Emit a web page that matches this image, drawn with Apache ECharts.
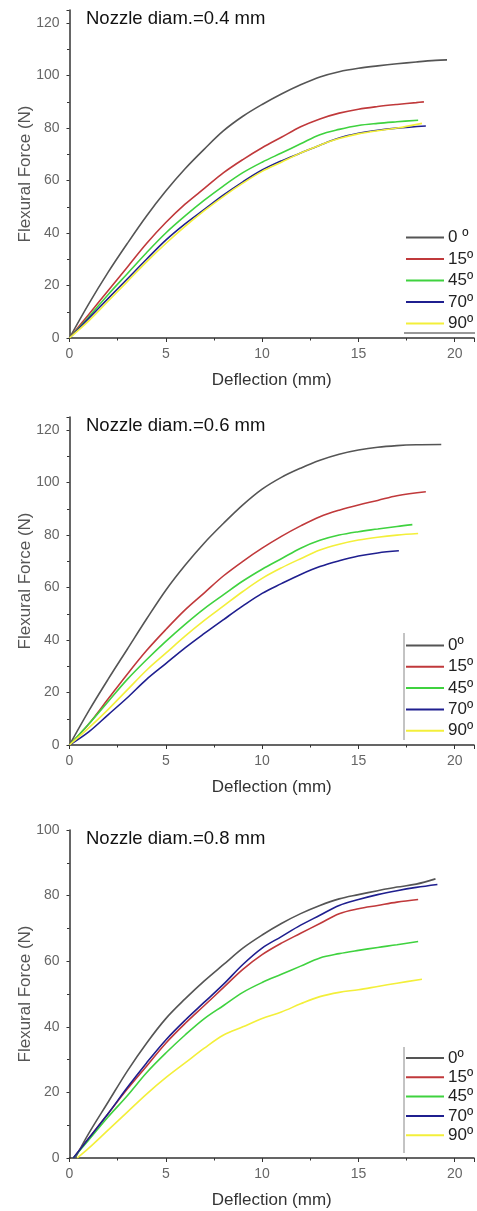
<!DOCTYPE html>
<html>
<head>
<meta charset="utf-8">
<script src="https://cdn.jsdelivr.net/npm/echarts@6/dist/echarts.min.js"></script>
<style>
  html, body { margin: 0; padding: 0; background: #fff; }
  #chart { width: 477px; height: 1211px; }
</style>
</head>
<body>
<div id="chart"></div>
<script>
// legend labels
var names04 = ['0 º', '15º', '45º', '70º', '90º'];
var names06 = ['0º', '15º', '45º', '70º', '90º'];
var names08 = ['0º', '15º', '45º', '70º', '90º'];
var panelTitles = ['Nozzle diam.=0.4 mm', 'Nozzle diam.=0.6 mm', 'Nozzle diam.=0.8 mm'];
var yMax = [125, 125, 100];

// nozzle 0.4 mm  [deflection, force]
var n04_0  = [[0,0],[1,13],[2,25],[3,36],[4,46.5],[5,56],[6,64.5],[7,72],[8,79],[9,84.5],[10,89],[11,93],[12,96.5],[13,99.5],[14,101.5],[15,102.8],[16,103.7],[17,104.5],[18,105.2],[19,105.8],[19.6,106]];
var n04_15 = [[0,0],[1,9],[2,18],[3,27],[4,36],[5,44],[6,51],[7,57],[8,63],[9,68],[10,72.5],[11,76.5],[12,80.5],[13,83.5],[14,85.7],[15,87.2],[16,88.2],[17,89],[18,89.7],[18.4,90]];
var n04_45 = [[0,0],[1,8],[2,16.5],[3,24.5],[4,32.5],[5,40],[6,46.5],[7,52.5],[8,58],[9,63],[10,67],[11,70.5],[12,74],[13,77.5],[14,79.5],[15,81],[16,81.8],[17,82.4],[18.1,83]];
var n04_70 = [[0,0],[1,7.5],[2,15],[3,22.5],[4,30],[5,37.3],[6,43.5],[7,49],[8,54.5],[9,59.5],[10,64],[11,67.5],[12,70.5],[13,73.5],[14,76.2],[15,78],[16,79.2],[17,80],[18.5,80.8]];
var n04_90 = [[0,0],[1,6.5],[2,14],[3,21.5],[4,29],[5,36],[6,42.5],[7,48.5],[8,54],[9,59],[10,63.5],[11,67],[12,70.5],[13,73.5],[14,76],[15,77.8],[16,79],[17,80],[18.3,81.8]];

// nozzle 0.6 mm
var n06_0  = [[0,0],[1,13],[2,25],[3,36.5],[4,48],[5,59],[6,68.5],[7,77],[8,84.5],[9,91.5],[10,97.5],[11,102],[12,105.5],[13,108.5],[14,110.8],[15,112.4],[16,113.5],[17,114.1],[18,114.4],[19.3,114.5]];
var n06_15 = [[0,0],[1,8],[2,17.5],[3,27],[4,36],[5,44],[6,51.5],[7,58],[8,64.5],[9,70],[10,75],[11,79.5],[12,83.5],[13,87],[14,89.5],[15,91.5],[16,93.2],[17,95],[18.5,96.5]];
var n06_45 = [[0,0],[1,8],[2,16.5],[3,25],[4,32.5],[5,39.5],[6,46],[7,52],[8,57.3],[9,62.5],[10,67],[11,71],[12,75],[13,78],[14,80],[15,81.3],[16,82.3],[17,83.3],[17.8,84]];
var n06_70 = [[0,0],[1,5],[2,11.5],[3,18],[4,25],[5,31],[6,37],[7,42.5],[8,47.8],[9,53],[10,57.8],[11,61.5],[12,65],[13,68],[14,70.2],[15,72],[16,73.2],[17.1,74]];
var n06_90 = [[0,0],[1,6.5],[2,13.5],[3,21],[4,28.5],[5,35],[6,41.5],[7,47.5],[8,53],[9,58.5],[10,63.5],[11,67.5],[12,71],[13,74.3],[14,76.5],[15,78.1],[16,79.2],[17,80],[18.1,80.6]];

// nozzle 0.8 mm
var n08_0  = [[0.3,0],[1,7.5],[2,17],[3,26.5],[4,35],[5,42.5],[6,48.5],[7,54],[8,59],[9,64],[10,68],[11,71.5],[12,74.5],[13,77],[14,79],[15,80.3],[16,81.5],[17,82.6],[18,83.5],[19,85.1]];
var n08_15 = [[0.2,0],[1,6],[2,13.5],[3,21],[4,28],[5,35],[6,41],[7,46.5],[8,52],[9,57.5],[10,62],[11,65.5],[12,68.5],[13,71.5],[14,74.5],[15,76],[16,77],[17,78],[18.1,78.8]];
var n08_45 = [[0.2,0],[1,5.5],[2,12.5],[3,19],[4,26],[5,32],[6,37.5],[7,42.5],[8,46.5],[9,50.5],[10,53.5],[11,56],[12,58.5],[13,61],[14,62.3],[15,63.3],[16,64.2],[17,65],[18.1,66]];
var n08_70 = [[0.2,0],[1,6],[2,13.5],[3,21.5],[4,29],[5,36],[6,42],[7,47.5],[8,53],[9,59],[10,64],[11,67.5],[12,71],[13,74],[14,77],[15,78.8],[16,80.3],[17,81.5],[18,82.5],[19.1,83.4]];
var n08_90 = [[0.4,0],[1,3],[2,8.5],[3,14],[4,19.5],[5,24.5],[6,29],[7,33.5],[8,37.5],[9,40],[10,42.5],[11,44.5],[12,47],[13,49.2],[14,50.5],[15,51.3],[16,52.3],[17,53.3],[18.3,54.5]];

var colors = ['#555555', '#c0393b', '#3fd23f', '#1f1f8f', '#f3ef3a'];
var panels = [
    { names: names04, data: [n04_0, n04_15, n04_45, n04_70, n04_90] },
    { names: names06, data: [n06_0, n06_15, n06_45, n06_70, n06_90] },
    { names: names08, data: [n08_0, n08_15, n08_45, n08_70, n08_90] }
];

var gridTops = [10, 417, 830];
var gridHeight = 328;
var legendTops = [229, 637, 1049.5];
var legendGaps = [4.5, 4.3, 2.3];
var font = 'Liberation Sans, Arial, sans-serif';

var option = { animation: false, title: [], grid: [], xAxis: [], yAxis: [], legend: [], series: [], graphic: [] };

panels.forEach(function (p, i) {
    option.title.push({
        text: panelTitles[i], left: 81, top: gridTops[i] - 6,
        textStyle: { fontFamily: font, fontWeight: 'normal', fontSize: 18.5, color: '#111' }
    });
    option.grid.push({ left: 69.5, width: 406.6, top: gridTops[i], height: gridHeight });
    option.xAxis.push({
        gridIndex: i, type: 'value', min: 0, max: 21, interval: 5,
        name: 'Deflection (mm)', nameLocation: 'middle', nameGap: 34, nameMoveOverlap: false,
        nameTextStyle: { fontFamily: font, fontSize: 17, color: '#333' },
        splitLine: { show: false },
        axisLine: { onZero: false, lineStyle: { color: '#333', width: 1.5 } },
        axisTick: { length: 4, lineStyle: { color: '#333' } },
        minorTick: { show: true, splitNumber: 2, length: 2.5, lineStyle: { color: '#333' } },
        axisLabel: {
            margin: 9, fontFamily: font, fontSize: 14, color: '#666',
            formatter: function (v) { return v % 5 === 0 ? v : ''; }
        }
    });
    option.yAxis.push({
        gridIndex: i, type: 'value', min: 0, max: yMax[i], interval: 20,
        name: 'Flexural Force (N)', nameLocation: 'middle', nameGap: 36, nameMoveOverlap: false,
        nameTextStyle: { fontFamily: font, fontSize: 17, color: '#555' },
        splitLine: { show: false },
        axisLine: { show: true, onZero: false, lineStyle: { color: '#333', width: 1.5 } },
        axisTick: { length: 3, lineStyle: { color: '#333' } },
        minorTick: { show: true, splitNumber: 2, length: 2.5, lineStyle: { color: '#333' } },
        axisLabel: {
            margin: 10, fontFamily: font, fontSize: 14, color: '#666',
            formatter: function (v) { return v % 20 === 0 ? v : ''; }
        }
    });
    option.legend.push({
        orient: 'vertical', left: 406, top: legendTops[i], padding: 0,
        itemWidth: 38, itemHeight: 2, itemGap: legendGaps[i], icon: 'rect',
        textStyle: { fontFamily: font, fontSize: 17, color: '#222', padding: [0, 0, 0, -1] },
        data: p.names
    });
    p.data.forEach(function (d, k) {
        option.series.push({
            name: p.names[k], type: 'line', xAxisIndex: i, yAxisIndex: i,
            data: d, smooth: 0.35, showSymbol: false, symbol: 'none',
            color: colors[k], lineStyle: { width: 1.6, color: colors[k] }
        });
    });
});

// legend frame lines
option.graphic = [
    { type: 'line', shape: { x1: 404, y1: 333, x2: 475, y2: 333 }, style: { stroke: '#333', lineWidth: 1 } },
    { type: 'line', shape: { x1: 404, y1: 633, x2: 404, y2: 740 }, style: { stroke: '#888', lineWidth: 1 } },
    { type: 'line', shape: { x1: 404, y1: 1047, x2: 404, y2: 1153 }, style: { stroke: '#888', lineWidth: 1 } }
];

var chart = echarts.init(document.getElementById('chart'));
chart.setOption(option);
</script>
</body>
</html>
